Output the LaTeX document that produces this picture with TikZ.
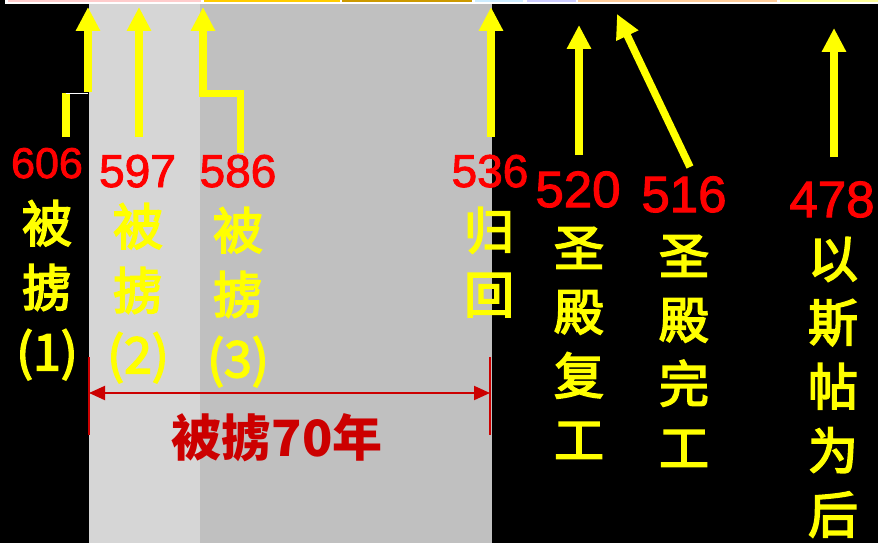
\documentclass[tikz,border=0pt]{standalone}
\usepackage{fontspec}
\setmainfont{Liberation Sans}
\newfontfamily\cjk{Noto Sans CJK SC}
\newfontfamily\cjkm{Noto Sans CJK SC}[FakeBold=3.2]
\newfontfamily\numfont{Liberation Sans}[FakeBold=2]
\usetikzlibrary{arrows.meta}
\definecolor{ylw}{HTML}{FFFF00}
\definecolor{rd}{HTML}{FF0000}
\definecolor{drd}{HTML}{CC0000}
\definecolor{lgray}{HTML}{D6D6D6}
\definecolor{dgray}{HTML}{C0C0C0}
\definecolor{bpink}{HTML}{FFCCCC}
\definecolor{bgold}{HTML}{FFCC00}
\definecolor{bdgold}{HTML}{CC9900}
\definecolor{bblue}{HTML}{CCECFF}
\definecolor{blav}{HTML}{CCCCFF}
\definecolor{bpeach}{HTML}{FFCC99}
\definecolor{bylw}{HTML}{FFFF99}
\tikzset{
  yarrow/.style={draw=ylw, line width=7.5pt, line join=miter, -{Triangle[width=23pt,length=24pt]}},
  yline/.style={draw=ylw, line width=7.5pt},
  num/.style={text=rd, inner sep=0pt, anchor=base},
  vtext/.style={text=ylw, inner sep=0pt, anchor=north, align=center},
  dimline/.style={draw=drd, line width=2pt, {Triangle[width=14pt,length=16pt]}-{Triangle[width=14pt,length=16pt]}},
  tick/.style={draw=drd, line width=1.5pt}
}
\begin{document}
\begin{tikzpicture}[x=1pt,y=-1pt]
\useasboundingbox (0,0) rectangle (878,543);
% background
\fill[black] (0,0) rectangle (878,543);
\fill[white] (5,0) rectangle (878,4.5);
\fill[bpink] (8,0) rectangle (201,2);
\fill[bgold] (204,0) rectangle (340,2);
\fill[bdgold] (342,0) rectangle (472,2);
\fill[bblue] (475,0) rectangle (523,2);
\fill[blav] (527,0) rectangle (576,2);
\fill[bpeach] (578,0) rectangle (777,2);
\fill[bylw] (780,0) rectangle (878,2);
\fill[lgray] (89,4.5) rectangle (200,543);
\fill[dgray] (200,4.5) rectangle (492,543);

% numbers
\def\numA{\numfont\fontsize{43}{50}\selectfont}
\def\numB{\numfont\fontsize{46}{52}\selectfont}
\def\numC{\numfont\fontsize{51}{58}\selectfont}
\node[num, font=\numA] (n606) at (47,178) {606};
\node[num, font=\numB] (n597) at (137.5,187) {597};
\node[num, font=\numB] (n586) at (238,187) {586};
\node[num, font=\numB] (n536) at (490,187) {536};
\node[num, font=\numC] (n520) at (578,207) {520};
\node[num, font=\numC] (n516) at (684,212) {516};
\node[num, font=\numC] (n478) at (832,217) {478};

% vertical texts
\def\vt{\cjkm\fontsize{50}{64}\selectfont}
\node[vtext, font=\vt] (t606) at (47,200) {被\\掳\\(1)};
\node[vtext, font=\vt] (t597) at (138,203) {被\\掳\\(2)};
\node[vtext, font=\vt] (t586) at (238,207) {被\\掳\\(3)};
\node[vtext, font=\vt] (t536) at (489,207) {归\\回};
\node[vtext, font=\vt] (t520) at (579,227) {圣\\殿\\复\\工};
\node[vtext, font=\vt] (t516) at (684,235) {圣\\殿\\完\\工};
\node[vtext, font=\vt] (t478) at (833,237) {以\\斯\\帖\\为\\后};

% arrow points
\coordinate (a1b) at (66,137);
\coordinate (a1m) at (66,93);
\coordinate (a1n) at (88,93);
\coordinate (a1s) at (88,92);
\coordinate (a1t) at (88,7);
\coordinate (a2b) at (139,137);
\coordinate (a2t) at (139,7);
\coordinate (a3b) at (240.5,153);
\coordinate (a3m) at (240.5,93.5);
\coordinate (a3n) at (203,93.5);
\coordinate (a3t) at (203,7);
\coordinate (a4b) at (491,137);
\coordinate (a4t) at (491,7);
\coordinate (a5b) at (579,155);
\coordinate (a5t) at (579,25);
\coordinate (a6b) at (690,167);
\coordinate (a6t) at (617,14);
\coordinate (a7b) at (834,157);
\coordinate (a7t) at (834,28);

\draw[yline] (a1b) -- (a1m);
\draw[white, line width=1pt] (a1m) -- (a1n);
\draw[yarrow] (a1s) -- (a1t);
\draw[yarrow] (a2b) -- (a2t);
\draw[yarrow] (a3b) -- (a3m) -- (a3n) -- (a3t);
\draw[yarrow] (a4b) -- (a4t);
\draw[yarrow] (a5b) -- (a5t);
\draw[yarrow] (a6b) -- (a6t);
\draw[yarrow] (a7b) -- (a7t);

% dimension
\coordinate (d1) at (89,393);
\coordinate (d2) at (490,393);
\coordinate (d1a) at (89,357);
\coordinate (d1b) at (89,435);
\coordinate (d2a) at (490,357);
\coordinate (d2b) at (490,435);
\draw[tick] (d1a) -- (d1b);
\draw[tick] (d2a) -- (d2b);
\draw[dimline] (d1) -- (d2);
\node[text=drd, inner sep=0pt, anchor=north, font=\cjk\bfseries\fontsize{50}{60}\selectfont] (span) at (277,413) {被掳70年};
\end{tikzpicture}
\end{document}
